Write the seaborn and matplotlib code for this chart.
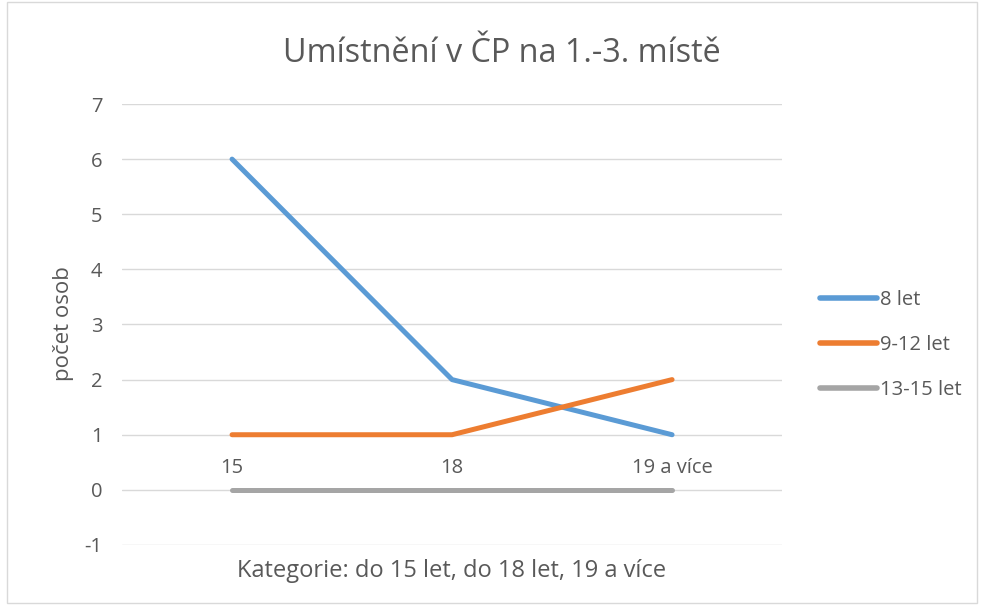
import pandas as pd
import matplotlib.pyplot as plt
import seaborn as sns
from matplotlib.patches import Rectangle

categories = ["15", "18", "19 a více"]
series_names = ["8 let", "9-12 let", "13-15 let"]
vals_8 = [6, 2, 1]
vals_9_12 = [1, 1, 2]
vals_13_15 = [0, 0, 0]
colors = ["#5B9BD5", "#ED7D31", "#A5A5A5"]

df = pd.DataFrame({
    "pos": list(range(len(categories))) * 3,
    "value": vals_8 + vals_9_12 + vals_13_15,
    "series": [s for s in series_names for _ in categories],
})

sns.set_style("white")
plt.rcParams['font.family'] = ['Open Sans', 'DejaVu Sans']
text_col = "#595959"
fs = 14.5

fig = plt.figure(figsize=(9.85, 6.1), dpi=100)
ax = fig.add_axes([0.1239, 0.1066, 0.6701, 0.7229])
sns.lineplot(data=df, x="pos", y="value", hue="series", hue_order=series_names,
             palette=colors, linewidth=3.6, ax=ax, solid_capstyle="round",
             solid_joinstyle="round")

ax.set_xlim(-0.5, 2.5)
ax.set_ylim(-1, 7)
ax.set_yticks(range(-1, 8))
ax.set_yticklabels([str(v) for v in range(-1, 8)], color=text_col, fontsize=fs)
ax.tick_params(axis="y", length=0, pad=14)
ax.set_xticks([])
ax.set_xlabel("")
ax.set_ylabel("")
ax.grid(axis="y", color="#D9D9D9", linewidth=1)
ax.set_axisbelow(True)
for sp in ax.spines.values():
    sp.set_visible(False)

# category labels sit between the 1 and 0 gridlines
for i, c in enumerate(categories):
    ax.annotate(c, (i, 1), xytext=(0, -27.4), textcoords="offset points",
                ha="center", va="baseline", color=text_col, fontsize=fs)

fig.text(0.4589, 0.0541, "Kategorie: do 15 let, do 18 let, 19 a více",
         ha="center", va="baseline", color=text_col, fontsize=17)
fig.text(0.064, 0.469, "počet osob", rotation=90, ha="center", va="center",
         color=text_col, fontsize=16)
fig.text(0.5096, 0.8984, "Umístnění v ČP na 1.-3. místě", ha="center", va="baseline",
         color=text_col, fontsize=23.3)

leg = ax.legend(loc="center left", bbox_to_anchor=(0.8325, 0.4344),
                bbox_transform=fig.transFigure, frameon=False, fontsize=fs,
                borderaxespad=0, borderpad=0,
                handlelength=2.83, handletextpad=0.15, labelspacing=1.25)
for t in leg.get_texts():
    t.set_color(text_col)
for h in leg.get_lines():
    h.set_linewidth(4)
    h.set_solid_capstyle("round")

fig.patches.append(Rectangle((0.007, 0.012), 0.985, 0.985, transform=fig.transFigure,
                             fill=False, edgecolor="#D9D9D9", linewidth=1))

fig.savefig("out.png", dpi=100)
